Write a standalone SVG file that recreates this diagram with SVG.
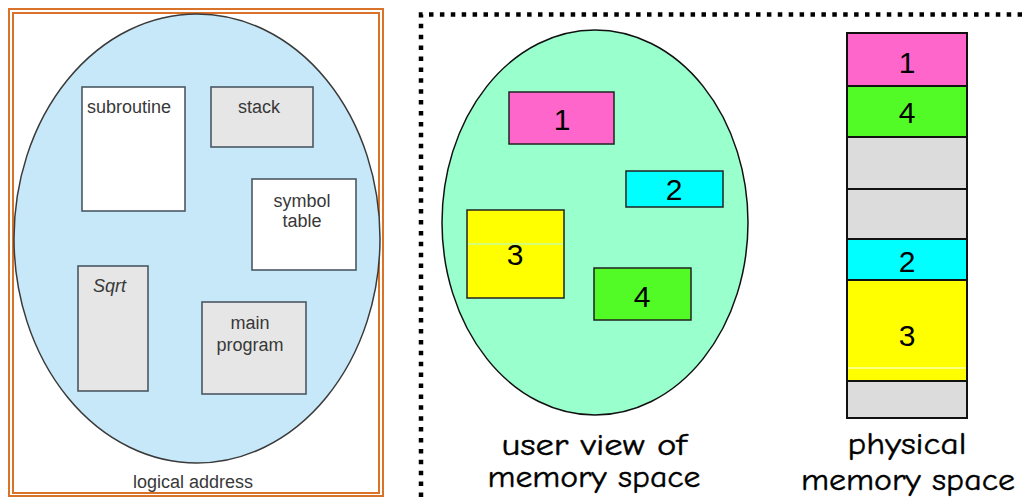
<svg xmlns="http://www.w3.org/2000/svg" width="1022" height="497" viewBox="0 0 1022 497">
  <style>
    .seg { stroke: #4a5862; stroke-width: 1.6; }
    .lbl { font-family: "Liberation Sans", Arial, sans-serif; font-size: 18px; fill: #383838; }
    .num { font-family: "Liberation Sans", Arial, sans-serif; font-size: 30px; fill: #000; text-anchor: middle; }
    .cap { font-family: "Comic Sans MS", "Comic Neue", "DejaVu Sans", sans-serif; font-size: 30px; fill: #000; text-anchor: middle; stroke: #000; stroke-width: 0.4; }
    .blk { stroke: #222; stroke-width: 1.5; }
    .mem { stroke: #111; stroke-width: 2; }
  </style>
  <rect width="1022" height="497" fill="#fff"/>

  <!-- left panel: logical address space -->
  <g id="logical-panel">
    <rect x="9" y="9" width="374" height="487" fill="none" stroke="#d9732a" stroke-width="2"/>
    <rect x="13" y="13" width="366" height="480" fill="#fff" stroke="#d9732a" stroke-width="2"/>
    <ellipse cx="197" cy="238.5" rx="183" ry="224.5" fill="#c6e8f8" stroke="#3a3a3a" stroke-width="1.5"/>
    <text class="lbl" x="193" y="488" text-anchor="middle">logical address</text>
  </g>
  <g id="subroutine">
    <rect class="seg" x="82" y="87" width="103" height="124" fill="#fff"/>
    <text class="lbl" x="87" y="113">subroutine</text>
  </g>
  <g id="stack">
    <rect class="seg" x="211" y="87" width="102" height="60" fill="#e6e6e6"/>
    <text class="lbl" x="259" y="113" text-anchor="middle">stack</text>
  </g>
  <g id="symbol-table">
    <rect class="seg" x="252" y="179" width="104" height="91" fill="#fff"/>
    <text class="lbl" x="302" y="207" text-anchor="middle">symbol</text>
    <text class="lbl" x="302" y="227" text-anchor="middle">table</text>
  </g>
  <g id="sqrt">
    <rect class="seg" x="78" y="266" width="70" height="125" fill="#e6e6e6"/>
    <text class="lbl" x="93" y="292" font-style="italic">Sqrt</text>
  </g>
  <g id="main-program">
    <rect class="seg" x="202" y="302" width="104" height="92" fill="#e6e6e6"/>
    <text class="lbl" x="250" y="329" text-anchor="middle">main</text>
    <text class="lbl" x="250" y="351" text-anchor="middle">program</text>
  </g>

  <!-- dotted frame around the right half -->
  <g id="frame">
    <path d="M421 497 V14.5 H1022" fill="none" stroke="#000" stroke-width="4.5" stroke-dasharray="4.5 6.4"/>
  </g>

  <!-- user view of memory space -->
  <g id="user-view">
    <ellipse cx="595" cy="222.5" rx="153" ry="192.5" fill="#99ffcc" stroke="#111" stroke-width="1.5"/>
    <text class="cap" x="594" y="455" textLength="185" lengthAdjust="spacingAndGlyphs">user view of</text>
    <text class="cap" x="594" y="487" textLength="213" lengthAdjust="spacingAndGlyphs">memory space</text>
  </g>
  <g id="seg-1">
    <rect class="blk" x="509" y="92" width="105" height="52" fill="#ff66cc"/>
    <text class="num" x="562" y="130">1</text>
  </g>
  <g id="seg-2">
    <rect class="blk" x="626" y="171" width="97" height="36" fill="#00ffff"/>
    <text class="num" x="674" y="200">2</text>
  </g>
  <g id="seg-3">
    <rect class="blk" x="467" y="210" width="97" height="88" fill="#ffff00"/>
    <line x1="468" y1="244" x2="563" y2="244" stroke="#aaffee" stroke-width="1"/>
    <text class="num" x="515" y="265">3</text>
  </g>
  <g id="seg-4">
    <rect class="blk" x="594" y="268" width="97" height="52" fill="#52fb26"/>
    <text class="num" x="642" y="307">4</text>
  </g>

  <!-- physical memory column -->
  <g id="physical-memory">
    <rect class="mem" x="847" y="33" width="120" height="53" fill="#ff66cc"/>
    <rect class="mem" x="847" y="86" width="120" height="51" fill="#52fb26"/>
    <rect class="mem" x="847" y="137" width="120" height="52" fill="#dcdcdc"/>
    <rect class="mem" x="847" y="189" width="120" height="50" fill="#dcdcdc"/>
    <rect class="mem" x="847" y="239" width="120" height="41" fill="#00ffff"/>
    <rect class="mem" x="847" y="280" width="120" height="101" fill="#ffff00"/>
    <line x1="848" y1="368" x2="966" y2="368" stroke="#fff" stroke-width="1.2"/>
    <rect class="mem" x="847" y="381" width="120" height="37" fill="#dcdcdc"/>
    <text class="num" x="907" y="73">1</text>
    <text class="num" x="907" y="123">4</text>
    <text class="num" x="907" y="272">2</text>
    <text class="num" x="907" y="346">3</text>
    <text class="cap" x="907" y="454" textLength="119" lengthAdjust="spacingAndGlyphs">physical</text>
    <text class="cap" x="908" y="490" textLength="214" lengthAdjust="spacingAndGlyphs">memory space</text>
  </g>
</svg>
